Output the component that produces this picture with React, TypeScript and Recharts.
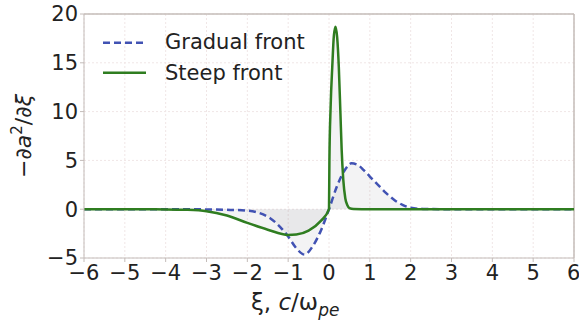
import React from 'react';
import { ComposedChart, Line, Area, XAxis, YAxis, CartesianGrid, ReferenceLine } from 'recharts';

const gradualXi = [-6, -5, -4, -3, -2.5, -2, -1.7, -1.45, -1.2, -1.0, -0.8, -0.6, -0.4, -0.2, 0, 0.2, 0.4, 0.55, 0.7, 0.85, 1.0, 1.2, 1.4, 1.6, 1.8, 2.0, 2.3, 3, 4, 5, 6];
const gradualVals = [0, 0, 0, -0.02, -0.06, -0.15, -0.4, -0.9, -1.8, -2.8, -4.0, -4.65, -3.8, -2.2, 0, 2.4, 4.1, 4.7, 4.55, 4.0, 3.35, 2.5, 1.65, 0.95, 0.44, 0.15, 0.03, 0, 0, 0, 0];

const steepXi = [-6, -5, -4, -3.5, -3, -2.5, -2, -1.5, -1.0, -0.8, -0.5, -0.2, 0, 0.01, 0.04, 0.08, 0.12, 0.16, 0.2, 0.24, 0.28, 0.31, 0.35, 0.4, 0.45, 0.5, 0.6, 1, 2, 3, 4, 5, 6];
const steepVals = [0, 0, -0.02, -0.06, -0.2, -0.65, -1.4, -2.1, -2.64, -2.6, -2.2, -1.2, 0, 5, 10.5, 14.6, 17.8, 18.7, 17.6, 14.6, 9.8, 6.1, 3.0, 1.1, 0.4, 0.12, 0.02, 0, 0, 0, 0, 0, 0];

const xTicks = [-6, -5, -4, -3, -2, -1, 0, 1, 2, 3, 4, 5, 6];
const yTicks = [-5, 0, 5, 10, 15, 20];

const seriesNames = ['Gradual front', 'Steep front'];

const gradualData = gradualXi.map((x, i) => ({ xi: x, gradual: gradualVals[i] }));
const steepData = steepXi.map((x, i) => ({ xi: x, steep: steepVals[i] }));

const BLUE = '#4152b3';
const GREEN = '#2f7d20';
const FRAME = '#c4bcb9';
const FONT = 'DejaVu Sans';

const fmt = (v: number) => (v < 0 ? '\u2212' + Math.abs(v) : String(v));

const LegendBox = () => (
  <svg width={230} height={70} style={{ position: 'absolute', left: 95, top: 20, display: 'block' }}>
    <line x1={8} x2={51} y1={22.7} y2={22.7} stroke={BLUE} strokeWidth={2.5} strokeDasharray="7 4" />
    <text x={70} y={29.3} fontFamily={FONT} fontSize={21} fill="#222">{seriesNames[0]}</text>
    <line x1={8} x2={51} y1={52.7} y2={52.7} stroke={GREEN} strokeWidth={2.5} />
    <text x={70} y={60} fontFamily={FONT} fontSize={21} fill="#222">{seriesNames[1]}</text>
  </svg>
);

const YLabel = (props: any) => {
  const vb = props.viewBox || { x: 0, y: 14, width: 84, height: 244 };
  const cx = 31;
  const cy = vb.y + vb.height / 2;
  return (
    <text x={cx} y={cy} transform={`rotate(-90 ${cx} ${cy})`} textAnchor="middle" fontFamily={FONT} fontSize={22} fill="#222">
      <tspan>{'\u2212\u2202'}</tspan>
      <tspan fontStyle="italic">a</tspan>
      <tspan fontSize={15} dy={-9}>2</tspan>
      <tspan dy={9}>{'/\u2202'}</tspan>
      <tspan fontStyle="italic">{'\u03be'}</tspan>
    </text>
  );
};

const XLabel = () => (
  <text x={251} y={310} fontFamily={FONT} fontSize={23} fill="#222">
    <tspan>{'\u03be, '}</tspan>
    <tspan fontStyle="italic">c</tspan>
    <tspan>/</tspan>
    <tspan>{'\u03c9'}</tspan>
    <tspan fontStyle="italic" fontSize={17} dy={6}>pe</tspan>
  </text>
);

export default function App() {
  return (
    <div style={{ position: 'absolute', left: 0, top: 0, width: 579, height: 324, background: '#fff' }}>
      <ComposedChart width={579} height={324} margin={{ top: 14, right: 5, bottom: 0, left: 0 }}>
        <CartesianGrid stroke="#f0e6e6" strokeDasharray="2 2" />
        <XAxis
          type="number"
          dataKey="xi"
          domain={[-6, 6]}
          ticks={xTicks}
          tickFormatter={fmt}
          allowDataOverflow
          height={66}
          stroke={FRAME}
          tickSize={4}
          tickMargin={3}
          tick={{ fill: '#222', fontSize: 21, fontFamily: FONT }}
          label={{ content: XLabel }}
        />
        <YAxis
          type="number"
          domain={[-5, 20]}
          ticks={yTicks}
          tickFormatter={fmt}
          allowDataOverflow
          width={84}
          stroke={FRAME}
          tickSize={4}
          tickMargin={2}
          tick={{ fill: '#222', fontSize: 21, fontFamily: FONT }}
          label={{ content: YLabel }}
        />
        <ReferenceLine y={20} stroke={FRAME} strokeWidth={1.5} />
        <ReferenceLine x={6} stroke={FRAME} strokeWidth={1.5} />
        <Area data={gradualData} dataKey="gradual" type="monotone" stroke="none" fill="#8a8a95" fillOpacity={0.1} isAnimationActive={false} legendType="none" />
        <Area data={steepData} dataKey="steep" type="monotone" stroke="none" fill="#8a8a95" fillOpacity={0.1} isAnimationActive={false} legendType="none" />
        <Line data={gradualData} dataKey="gradual" name={seriesNames[0]} type="monotone" stroke={BLUE} strokeWidth={2.5} strokeDasharray="7 4" dot={false} isAnimationActive={false} />
        <Line data={steepData} dataKey="steep" name={seriesNames[1]} type="monotone" stroke={GREEN} strokeWidth={2.5} dot={false} isAnimationActive={false} />
      </ComposedChart>
      <LegendBox />
    </div>
  );
}
